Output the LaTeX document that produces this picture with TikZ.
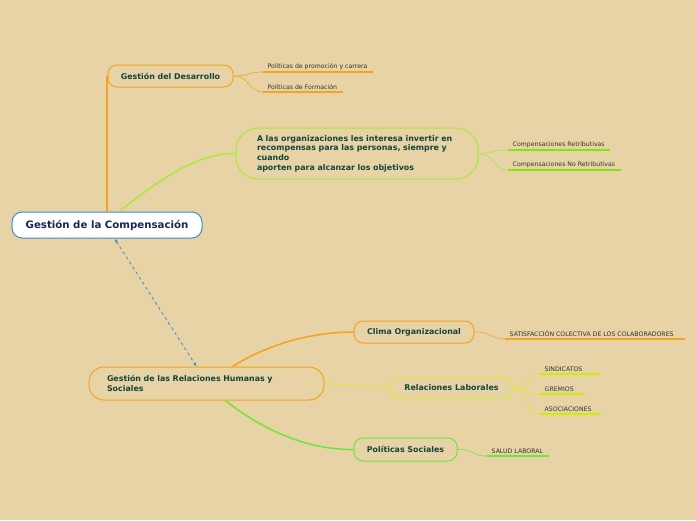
\documentclass[tikz,border=0pt]{standalone}
\usepackage{fontspec}
\setmainfont{DejaVu Sans}
\usetikzlibrary{arrows.meta,calc}
\definecolor{bg}{HTML}{E8D3A6}
\definecolor{orng}{HTML}{F5A21E}
\definecolor{lime}{HTML}{A6EA3A}
\definecolor{ylime}{HTML}{D4EE36}
\definecolor{grn}{HTML}{6EE63A}
\definecolor{ulgrn}{HTML}{80E800}
\definecolor{ulyl}{HTML}{C8F000}
\definecolor{blu}{HTML}{3A8CD0}
\definecolor{txtg}{HTML}{14443A}
\definecolor{txtn}{HTML}{15284F}
\definecolor{leaftxt}{HTML}{333333}
\tikzset{
  box/.style={draw, line width=1pt, fill=bg, text=txtg, font=\bfseries\fontsize{7.9}{9.6}\selectfont, inner sep=0pt},
  leaf/.style={anchor=south west, inner xsep=4.5pt, inner ysep=2.5pt, text=leaftxt, font=\fontsize{6.2}{7}\selectfont},
  ul/.style={line width=1.4pt},
  mainc/.style={line width=1.5pt},
  thinc/.style={line width=0.6pt}
}
\begin{document}
\begin{tikzpicture}[x=1pt,y=-1pt]
\useasboundingbox[fill=bg] (0,0) rectangle (696,520);
% main nodes
\node[box, draw=blu, fill=white, text=txtn, font=\bfseries\fontsize{10.2}{12}\selectfont, minimum width=190, minimum height=26, rounded corners=10] (root) at (107,225) {Gestión de la Compensación};
\node[box, draw=orng, minimum width=125, minimum height=22, rounded corners=9] (gd) at (170.5,76) {Gestión del Desarrollo};
\node[box, draw=lime, minimum width=242, minimum height=51, rounded corners=22, text width=200, align=left] (big) at (357,153.5) {A las organizaciones les interesa invertir en\\recompensas para las personas, siempre y\\cuando\\aporten para alcanzar los objetivos};
\node[box, draw=orng, minimum width=235, minimum height=33, rounded corners=15, text width=199, align=left] (grh) at (206.5,383.5) {Gestión de las Relaciones Humanas y\\Sociales};
\node[box, draw=orng, minimum width=120, minimum height=22, rounded corners=9] (clima) at (414,332) {Clima Organizacional};
\node[box, draw=ylime, minimum width=121, minimum height=22, rounded corners=9] (rl) at (451.5,388) {Relaciones Laborales};
\node[box, draw=grn, minimum width=103, minimum height=23, rounded corners=9] (ps) at (405.5,449.5) {Políticas Sociales};
% leaves
\node[leaf] (l1) at (263,72) {Políticas de promoción y carrera};
\node[leaf] (l2) at (263,92) {Políticas de Formación};
\node[leaf] (l3) at (508,150) {Compensaciones Retributivas};
\node[leaf] (l4) at (508,170) {Compensaciones No Retributivas};
\node[leaf] (l5) at (505,339) {SATISFACCIÓN COLECTIVA DE LOS COLABORADORES};
\node[leaf] (l6) at (540,374) {SINDICATOS};
\node[leaf] (l7) at (540,394) {GREMIOS};
\node[leaf] (l8) at (540,414) {ASOCIACIONES};
\node[leaf] (l9) at (487,456) {SALUD LABORAL};
% underlines
\draw[ul, orng] (l1.south west) -- ++(110,0);
\draw[ul, orng] (l2.south west) -- ++(80,0);
\draw[ul, orng] (l5.south west) -- ++(180,0);
\draw[ul, ulgrn] (l3.south west) -- ++(102,0);
\draw[ul, ulgrn] (l4.south west) -- ++(113,0);
\draw[ul, ulyl] (l6.south west) -- ++(60,0);
\draw[ul, ulyl] (l7.south west) -- ++(45,0);
\draw[ul, ulyl] (l8.south west) -- ++(61,0);
\draw[ul, grn] (l9.south west) -- ++(62,0);
% main connectors
\draw[line width=2pt, orng] ($(root.north west)+(95.5,0)$) -- ($(gd.west)+(-0.5,0)$);
\draw[mainc, lime] ($(root.north west)+(108,0)$) .. controls (165,175) and (200,153) .. (big.west);
\draw[mainc, orng] ($(grh.north west)+(144,0)$) .. controls (275,340) and (320,332) .. (clima.west);
\draw[line width=1pt, ylime] (grh.east) -- (rl.west);
\draw[mainc, grn] ($(grh.south west)+(137,0)$) .. controls (265,432) and (310,450) .. (ps.west);
% thin connectors
\draw[thinc, orng] (gd.east) .. controls (250,76) and (248,72) .. (l1.south west);
\draw[thinc, orng] (gd.east) .. controls (250,76) and (248,92) .. (l2.south west);
\draw[thinc, lime] (big.east) .. controls (495,153) and (492,150) .. (l3.south west);
\draw[thinc, lime] (big.east) .. controls (495,153) and (492,170) .. (l4.south west);
\draw[thinc, orng] (clima.east) .. controls (492,332) and (490,339) .. (l5.south west);
\draw[thinc, ylime] (rl.east) .. controls (528,388) and (525,374) .. (l6.south west);
\draw[thinc, ylime] (rl.east) .. controls (528,388) and (525,394) .. (l7.south west);
\draw[thinc, ylime] (rl.east) .. controls (528,388) and (525,414) .. (l8.south west);
\draw[thinc, grn] (ps.east) .. controls (474,449) and (472,456) .. (l9.south west);
% dashed relation
\draw[blu, line width=0.8pt, dashed, {Latex[length=4pt,width=3pt]}-{Latex[length=4pt,width=3pt]}] ($(root.south west)+(103,0)$) -- ($(grh.north west)+(108,0)$);
\end{tikzpicture}
\end{document}
